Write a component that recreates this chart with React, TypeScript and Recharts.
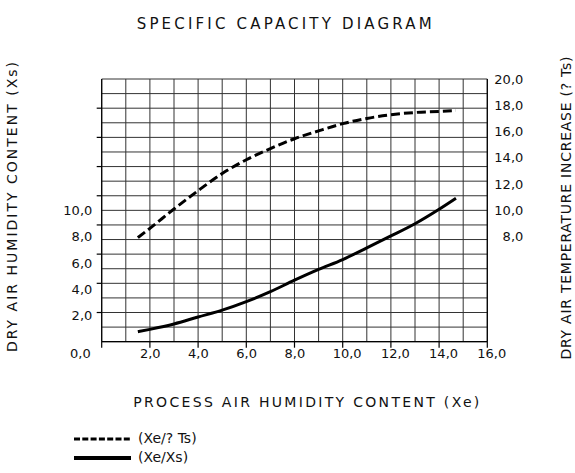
import { LineChart, Line, XAxis, YAxis, CartesianGrid, Legend } from "recharts";

// process air humidity content (Xe)
const processAir = [1.5, 2, 3, 4, 5, 6, 7, 8, 9, 10, 11, 12, 13, 14, 14.7];
// dry air humidity content (Xs) – solid curve
const dryAirHumidity = [0.76, 0.94, 1.35, 1.88, 2.4, 3.05, 3.81, 4.68, 5.5, 6.25, 7.15, 8.05, 8.98, 10.08, 10.92];
// dry air temperature increase (? Ts) – dashed curve
const dryAirTempIncrease = [7.92, 8.63, 10.1, 11.5, 12.8, 13.85, 14.7, 15.45, 16.05, 16.6, 17.0, 17.28, 17.45, 17.53, 17.6];

const xTicks = [0, 2, 4, 6, 8, 10, 12, 14, 16];
const xGridTicks = [0, 1, 2, 3, 4, 5, 6, 7, 8, 9, 10, 11, 12, 13, 14, 15, 16];
// the drawing's horizontal grid has 18 rows, independent of the value scales
const yGridRows = 18;
const yGridTicks = [0, 1, 2, 3, 4, 5, 6, 7, 8, 9, 10, 11, 12, 13, 14, 15, 16, 17, 18];
const leftTickMarks = [2, 4, 6, 8, 10, 12, 14, 16];
const leftLabels = [2, 4, 6, 8, 10];
const rightLabels = [8, 10, 12, 14, 16, 18, 20];

const SERIES = [
  { key: "ts", axis: "ts", label: "(Xe/? Ts)", dash: "9 4", legendDash: "6 2.3", legendWidth: 3 },
  { key: "xs", axis: "xs", label: "(Xe/Xs)", dash: undefined, legendDash: undefined, legendWidth: 4 },
];

const data = processAir.map((x, i) => ({
  x,
  xs: dryAirHumidity[i],
  ts: dryAirTempIncrease[i],
}));

const FONT = "'DejaVu Sans', sans-serif";
const INK = "#111";
const fmt = (v: number) => v.toFixed(1).replace(".", ",");

function XTick({ x, y, payload }: any) {
  const zero = payload.value === 0;
  return (
    <text
      x={zero ? x - 11 : x - 10}
      y={y}
      dy="0.355em"
      textAnchor={zero ? "end" : "start"}
      fontSize={13}
      fontFamily={FONT}
      fill={INK}
    >
      {fmt(payload.value)}
    </text>
  );
}

function LeftTick({ x, y, payload }: any) {
  return (
    <text x={x} y={y} dy="0.355em" textAnchor="end" fontSize={13} fontFamily={FONT} fill={INK}>
      {fmt(payload.value)}
    </text>
  );
}

function MarkTick({ x, y }: any) {
  return <line x1={x - 5} x2={x} y1={y} y2={y} stroke="#000" strokeWidth={1.2} />;
}

function RightTick({ x, y, payload }: any) {
  return (
    <text x={x + 29} y={y} dy="0.355em" textAnchor="end" fontSize={13} fontFamily={FONT} fill={INK}>
      {fmt(payload.value)}
    </text>
  );
}

function gridRows({ offset }: any) {
  return yGridTicks.map((t) => offset.top + (offset.height * (yGridRows - t)) / yGridRows);
}

function renderLegend() {
  return (
    <div>
      {SERIES.map((s) => (
        <div key={s.key} style={{ display: "flex", alignItems: "center", height: 19 }}>
          <svg width={58} height={8}>
            <line x1={0} x2={57} y1={4} y2={4} stroke="#000" strokeWidth={s.legendWidth} strokeDasharray={s.legendDash} />
          </svg>
          <span style={{ marginLeft: 6, fontSize: 14, fontFamily: FONT, color: INK, lineHeight: "19px" }}>
            {s.label}
          </span>
        </div>
      ))}
    </div>
  );
}

export default function App() {
  return (
    <div style={{ position: "absolute", left: 0, top: 0, width: 575, height: 473, background: "#fff" }}>
      <LineChart width={575} height={473} data={data} margin={{ top: 79, right: 86.7, bottom: 101.3, left: 99.7 }}>
        <XAxis xAxisId="grid" type="number" dataKey="x" domain={[0, 16]} ticks={xGridTicks} tickCount={17} allowDataOverflow height={0} hide />
        <CartesianGrid xAxisId="grid" yAxisId="marks" horizontalCoordinatesGenerator={gridRows} stroke="#333" strokeWidth={1} />
        <XAxis
          xAxisId="main"
          type="number"
          dataKey="x"
          domain={[0, 16]}
          allowDataOverflow
          ticks={xTicks}
          tickCount={9}
          interval={0}
          height={30}
          tickSize={6}
          tickMargin={6}
          axisLine={{ stroke: "#000", strokeWidth: 1.2 }}
          tickLine={{ stroke: "#000", strokeWidth: 1.2 }}
          tick={<XTick />}
        />
        <YAxis
          yAxisId="marks"
          orientation="left"
          type="number"
          domain={[0, yGridRows]}
          allowDataOverflow
          ticks={leftTickMarks}
          tickCount={19}
          interval={0}
          width={1}
          tickSize={0}
          tickMargin={0}
          tick={<MarkTick />}
          axisLine={{ stroke: "#000", strokeWidth: 1.2 }}
          tickLine={false}
        />
        <YAxis
          yAxisId="xs"
          orientation="left"
          type="number"
          domain={[0, 20]}
          allowDataOverflow
          ticks={leftLabels}
          tickCount={11}
          interval={0}
          width={1}
          tickSize={0}
          tickMargin={8.4}
          axisLine={false}
          tickLine={false}
          tick={<LeftTick />}
        />
        <YAxis
          yAxisId="ts"
          orientation="right"
          type="number"
          domain={[0, 20]}
          allowDataOverflow
          ticks={rightLabels}
          tickCount={11}
          interval={0}
          width={1}
          tickSize={0}
          tickMargin={7}
          axisLine={{ stroke: "#000", strokeWidth: 1.2 }}
          tickLine={false}
          tick={<RightTick />}
        />
        {SERIES.map((s) => (
          <Line
            key={s.key}
            xAxisId="main"
            yAxisId={s.axis}
            type="monotone"
            dataKey={s.key}
            name={s.label}
            stroke="#000"
            strokeWidth={3}
            strokeDasharray={s.dash}
            dot={false}
            activeDot={false}
            isAnimationActive={false}
          />
        ))}
        <Legend
          layout="vertical"
          align="center"
          verticalAlign="middle"
          content={renderLegend}
          wrapperStyle={{ position: "absolute", left: 74, top: 429, width: 220, height: 40 }}
        />
      </LineChart>
      <svg width={575} height={473} style={{ position: "absolute", left: 0, top: 0, pointerEvents: "none" }}>
        <g fontFamily={FONT} fill={INK} fontSize={14}>
          <text x={284.2} y={29} textAnchor="middle" fontSize={15} textLength={295} lengthAdjust="spacing">
            SPECIFIC CAPACITY DIAGRAM
          </text>
          <text x={306.3} y={407} textAnchor="middle" textLength={346} lengthAdjust="spacing">
            PROCESS AIR HUMIDITY CONTENT (Xe)
          </text>
          <text transform="translate(16.5,207) rotate(-90)" textAnchor="middle" textLength={290} lengthAdjust="spacing">
            DRY AIR HUMIDITY CONTENT (Xs)
          </text>
          <text transform="translate(571,208) rotate(-90)" textAnchor="middle" textLength={303} lengthAdjust="spacing">
            DRY AIR TEMPERATURE INCREASE (? Ts)
          </text>
        </g>
      </svg>
    </div>
  );
}
